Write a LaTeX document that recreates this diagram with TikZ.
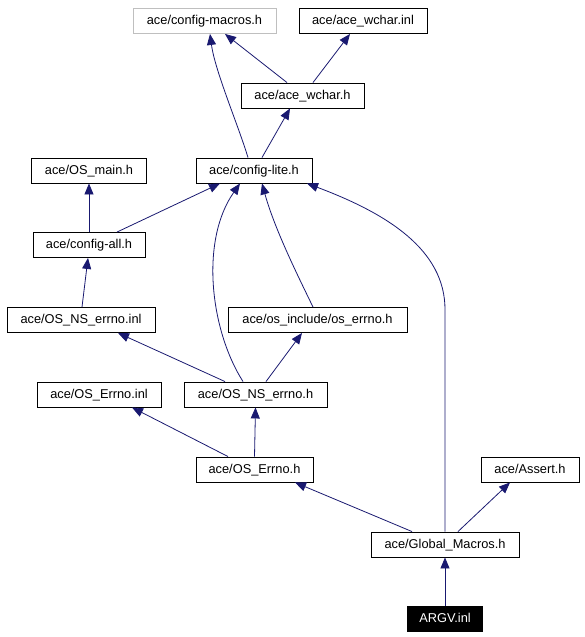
\documentclass[tikz,border=0pt]{standalone}
\usepackage{fontspec}
\setmainfont{Liberation Sans}
\usetikzlibrary{arrows.meta}
\definecolor{edgeblue}{HTML}{191970}
\definecolor{boxgray}{HTML}{BFBFBF}
\tikzset{
  box/.style={draw=black, line width=0.9pt, rectangle, minimum height=25pt, inner sep=0pt, text height=9.5pt, text depth=2.5pt, font=\fontsize{12.8}{14}\selectfont, fill=white},
  graybox/.style={box, draw=boxgray},
  mainbox/.style={box, fill=black, text=white},
  edge/.style={draw=edgeblue, line width=0.8pt, -{Triangle[length=11pt,width=9pt]}},
}
\begin{document}
\begin{tikzpicture}[x=1pt,y=-1pt]
\useasboundingbox (0,0) rectangle (584,637);
% nodes
\node[graybox, minimum width=143pt] (cm) at (204.5,21) {ace/config-macros.h};
\node[box, minimum width=128pt] (wi) at (363,21) {ace/ace\_wchar.inl};
\node[box, minimum width=123pt] (wh) at (302.5,95.5) {ace/ace\_wchar.h};
\node[box, minimum width=116pt] (cl) at (254,170.5) {ace/config-lite.h};
\node[box, minimum width=115pt] (om) at (89,170.5) {ace/OS\_main.h};
\node[box, minimum width=112pt] (ca) at (89,245) {ace/config-all.h};
\node[box, minimum width=148pt] (nsi) at (81,320) {ace/OS\_NS\_errno.inl};
\node[box, minimum width=179pt] (oe) at (317.5,320) {ace/os\_include/os\_errno.h};
\node[box, minimum width=124pt] (ei) at (99,394.5) {ace/OS\_Errno.inl};
\node[box, minimum width=143pt] (nsh) at (255.5,394.5) {ace/OS\_NS\_errno.h};
\node[box, minimum width=117pt] (eh) at (254.5,469.5) {ace/OS\_Errno.h};
\node[box, minimum width=98pt] (as) at (530,469.5) {ace/Assert.h};
\node[box, minimum width=148pt] (gm) at (445,544.5) {ace/Global\_Macros.h};
\node[mainbox, minimum width=75pt] (argv) at (445,618.5) {ARGV.inl};
% edges
\draw[edge] ([xshift=-6pt]cl.north) .. controls +(-10,-33) and +(5,37) .. ([xshift=5.5pt]cm.south);
\draw[edge] ([xshift=-15.5pt]wh.north) -- ([xshift=20.5pt]cm.south);
\draw[edge] ([xshift=10.5pt]wh.north) -- ([xshift=-13pt]wi.south);
\draw[edge] ([xshift=8pt]cl.north) -- ([xshift=-12.5pt]wh.south);
\draw[edge] ([xshift=28pt]ca.north) -- ([xshift=-34pt]cl.south);
\draw[edge] (ca.north) -- (om.south);
\draw[edge] ([xshift=1pt]nsi.north) -- ([xshift=-1pt]ca.south);
\draw[edge] ([xshift=-4.5pt]oe.north) .. controls +(-13,-27) and +(13,47) .. ([xshift=8pt]cl.south);
\draw[edge] ([xshift=-12.5pt]nsh.north) .. controls +(-33,-52) and +(-40,57) .. ([xshift=-14pt]cl.south);
\draw[edge] ([xshift=-30.5pt]nsh.north) -- ([xshift=37pt]nsi.south);
\draw[edge] ([xshift=10.5pt]nsh.north) -- ([xshift=-15.5pt]oe.south);
\draw[edge] (eh.north) -- (nsh.south);
\draw[edge] ([xshift=-26.5pt]eh.north) -- ([xshift=33pt]ei.south);
\draw[edge] ([xshift=-33pt]gm.north) -- ([xshift=40.5pt]eh.south);
\draw[edge] ([xshift=13pt]gm.north) -- ([xshift=-20pt]as.south);
\draw[edge] (gm.north) -- ++(0,-222) .. controls +(0,-60) and +(80,30) .. ([xshift=53pt]cl.south);
\draw[edge] (argv.north) -- (gm.south);
\end{tikzpicture}
\end{document}
